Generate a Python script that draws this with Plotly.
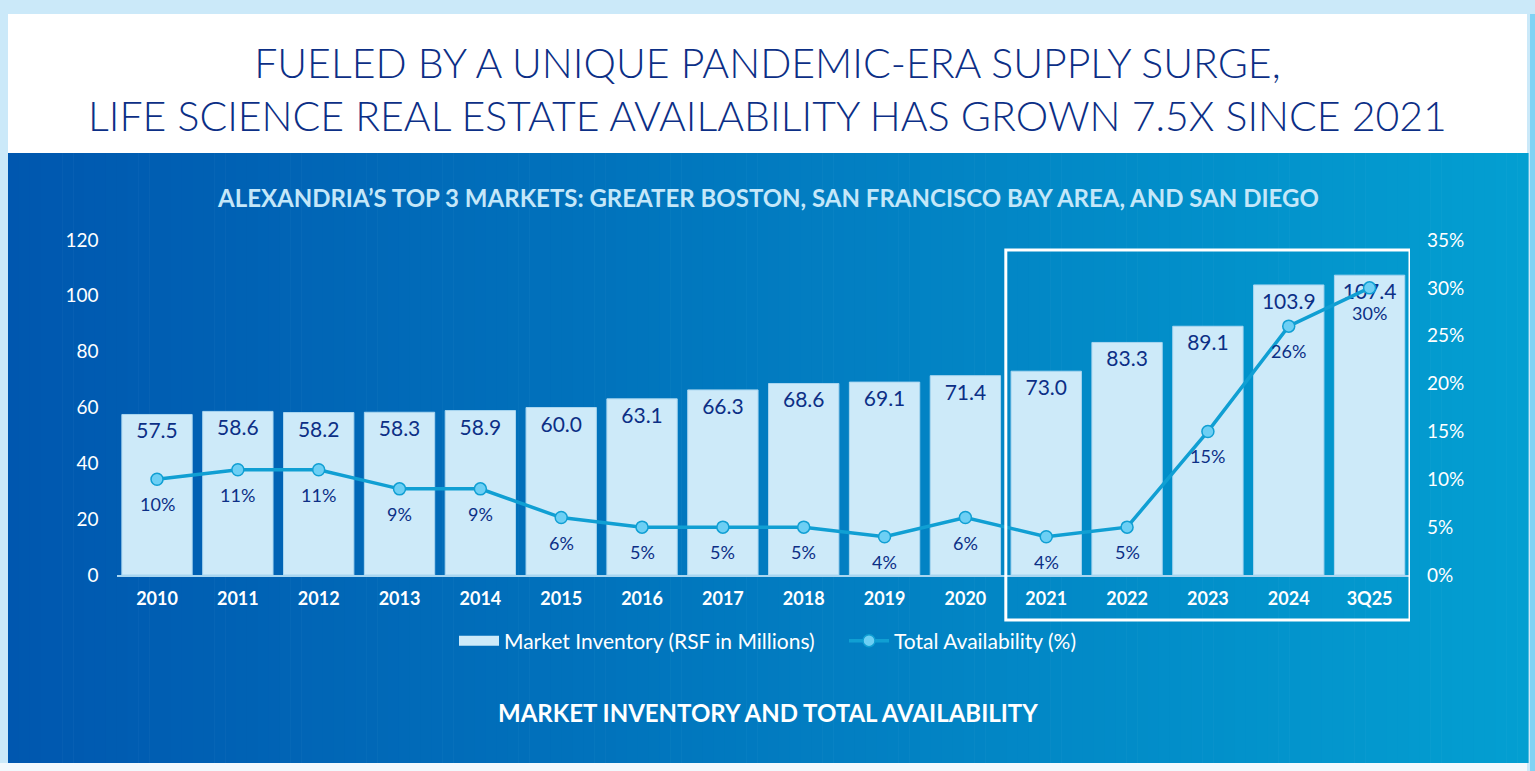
import plotly.graph_objects as go

W, H = 1535, 771

periods = ["2010", "2011", "2012", "2013", "2014", "2015", "2016", "2017",
           "2018", "2019", "2020", "2021", "2022", "2023", "2024", "3Q25"]
inventory_msf = [57.5, 58.6, 58.2, 58.3, 58.9, 60.0, 63.1, 66.3,
                 68.6, 69.1, 71.4, 73.0, 83.3, 89.1, 103.9, 107.4]
availability_pct = [10, 11, 11, 9, 9, 6, 5, 5, 5, 4, 6, 4, 5, 15, 26, 30]

TITLE = ("FUELED BY A UNIQUE PANDEMIC-ERA SUPPLY SURGE,<br>"
         "LIFE SCIENCE REAL ESTATE AVAILABILITY HAS GROWN 7.5X SINCE 2021")
SUBTITLE = "ALEXANDRIA’S TOP 3 MARKETS: GREATER BOSTON, SAN FRANCISCO BAY AREA, AND SAN DIEGO"
FOOTER = "MARKET INVENTORY AND TOTAL AVAILABILITY"
BAR_NAME = "Market Inventory (RSF in Millions)"
LINE_NAME = "Total Availability (%)"

NAVY = "#0c2f86"
BAR_FILL = "#cdeaf9"
LINE_COL = "#109fd3"
FONT = "Lato"


def px_x(p):
    return p / W


def px_y(p):
    return 1 - p / H


def mix(c1, c2, t):
    a = [int(c1[i:i + 2], 16) for i in (1, 3, 5)]
    b = [int(c2[i:i + 2], 16) for i in (1, 3, 5)]
    return "#%02x%02x%02x" % tuple(round(a[k] + (b[k] - a[k]) * t) for k in range(3))


fig = go.Figure()

fig.add_trace(go.Bar(
    x=periods, y=inventory_msf, name=BAR_NAME, showlegend=False,
    marker=dict(color=BAR_FILL, line=dict(color="#a9d6f0", width=1)),
    texttemplate="%{y:.1f}", textposition="inside", insidetextanchor="end",
    textangle=0, constraintext="none",
    insidetextfont=dict(family=FONT, size=21, color=NAVY),
    hoverinfo="skip",
))
# legend-only entry so the bar swatch is a wide rectangle like the original
fig.add_trace(go.Scatter(
    x=[None], y=[None], mode="lines", name=BAR_NAME,
    line=dict(color=BAR_FILL, width=13), hoverinfo="skip",
))

fig.add_trace(go.Scatter(
    x=periods, y=availability_pct, yaxis="y2", name=LINE_NAME,
    mode="lines+markers",
    line=dict(color=LINE_COL, width=3.5),
    marker=dict(size=12, color="#6dcff4", line=dict(color=LINE_COL, width=1.5)),
    hoverinfo="skip",
))

shapes = []
# white header and frame strips
shapes.append(dict(type="rect", xref="paper", yref="paper", layer="below",
                   x0=px_x(8), x1=px_x(1527), y0=px_y(153), y1=px_y(14),
                   fillcolor="white", line=dict(width=0)))
shapes.append(dict(type="rect", xref="paper", yref="paper", layer="below",
                   x0=0, x1=px_x(1527), y0=0, y1=px_y(763),
                   fillcolor="#f2f9fd", line=dict(width=0)))
shapes.append(dict(type="rect", xref="paper", yref="paper", layer="below",
                   x0=px_x(1530), x1=1, y0=0, y1=px_y(14),
                   fillcolor="#80d3f4", line=dict(width=0)))
# blue gradient panel
n = 140
left, right = 8, 1528
for i in range(n):
    a = left + (right - left) * i / n
    b = left + (right - left) * (i + 1) / n + 0.6
    shapes.append(dict(type="rect", xref="paper", yref="paper", layer="below",
                       x0=px_x(a), x1=px_x(b), y0=px_y(763), y1=px_y(153),
                       fillcolor=mix("#0057af", "#039fd1", i / (n - 1)),
                       line=dict(width=0)))
# highlight box, 2021 onwards
shapes.append(dict(type="rect", xref="x", yref="paper",
                   x0=10.5, x1=15.5, y0=px_y(620), y1=px_y(250),
                   line=dict(color="white", width=3), fillcolor="rgba(0,0,0,0)"))

annotations = [
    dict(text=TITLE, x=0.5, y=px_y(89), xref="paper", yref="paper",
         xanchor="center", yanchor="middle",
         showarrow=False, align="center",
         font=dict(family=FONT, size=41, color=NAVY, weight=300)),
    dict(text=SUBTITLE, x=0.5, y=px_y(198), xref="paper", yref="paper",
         xanchor="center", yanchor="middle",
         showarrow=False, font=dict(family=FONT, size=24, color="#c4e7f9", weight="bold")),
    dict(text=FOOTER, x=0.5, y=px_y(712), xref="paper", yref="paper",
         xanchor="center", yanchor="middle",
         showarrow=False, font=dict(family=FONT, size=24, color="white", weight="bold")),
]
# availability labels under each point
for i, v in enumerate(availability_pct):
    annotations.append(dict(
        x=i, y=v, xref="x", yref="y2", text=f"{v}%", showarrow=False,
        yshift=-25, font=dict(family=FONT, size=18, color=NAVY)))

fig.update_layout(
    width=W, height=H,
    margin=dict(l=0, r=0, t=0, b=0, autoexpand=False),
    paper_bgcolor="#cbe9f9", plot_bgcolor="rgba(0,0,0,0)",
    font=dict(family=FONT, color="white"),
    bargap=0.13,
    showlegend=True,
    legend=dict(orientation="h", x=px_x(454), xanchor="left", y=px_y(641), yanchor="middle",
                font=dict(family=FONT, size=21, color="white"),
                bgcolor="rgba(0,0,0,0)", itemwidth=40,
                entrywidth=335, entrywidthmode="pixels"),
    xaxis=dict(domain=[px_x(116.6), px_x(1410)], type="category", range=[-0.5, 15.5],
               showgrid=False, showline=True, linecolor="#a9d6f0", linewidth=2,
               ticks="", tickfont=dict(family=FONT, size=18, color="white", weight="bold"),
               ticklabelstandoff=6, fixedrange=True, automargin=False),
    yaxis=dict(domain=[px_y(575), px_y(240)], range=[0, 120], dtick=20,
               showgrid=False, zeroline=False, showline=False, ticks="",
               tickfont=dict(family=FONT, size=19, color="white"),
               ticklabelstandoff=17, fixedrange=True, automargin=False),
    yaxis2=dict(overlaying="y", side="right", range=[0, 35], dtick=5, ticksuffix="%",
                showgrid=False, zeroline=False, showline=False, ticks="",
                tickfont=dict(family=FONT, size=19, color="white"),
                ticklabelstandoff=16, fixedrange=True, automargin=False),
    shapes=shapes,
    annotations=annotations,
)

fig.write_html("out.html", config={"displayModeBar": False},
               post_script="document.body.style.margin='0';"
                           "document.body.style.overflow='hidden';")
